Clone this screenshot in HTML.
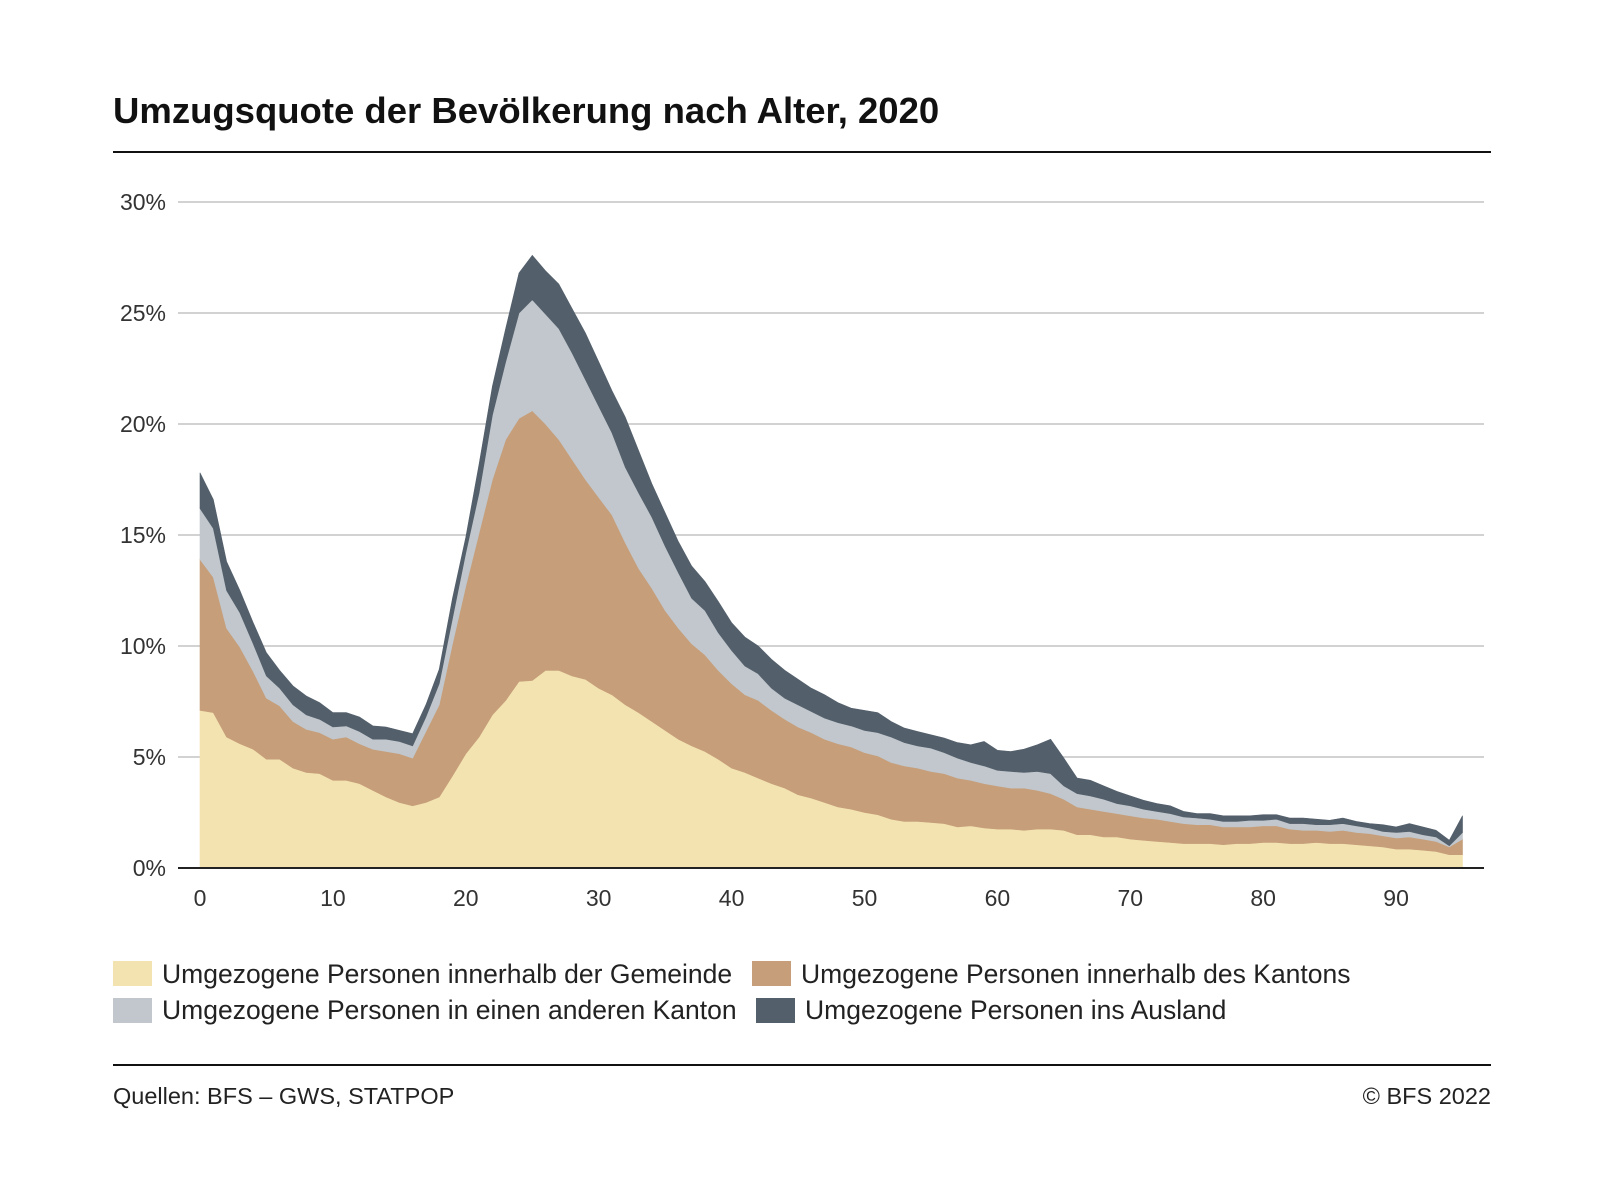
<!DOCTYPE html>
<html><head><meta charset="utf-8">
<style>
html,body{margin:0;padding:0;background:#fff;}
body{width:1600px;height:1196px;position:relative;overflow:hidden;font-family:"Liberation Sans",sans-serif;color:#111;}
svg{position:absolute;left:0;top:0;}
</style></head>
<body>
<svg id="chart" width="1600" height="1196" viewBox="0 0 1600 1196" xmlns="http://www.w3.org/2000/svg">
  <text x="113" y="123" font-family="Liberation Sans, sans-serif" font-size="36.5" font-weight="bold" fill="#111">Umzugsquote der Bevölkerung nach Alter, 2020</text>
  <rect x="113" y="151" width="1378" height="2" fill="#111"/>
  <g id="grid"></g>
  <g id="areas"></g>
  <g id="axes"></g>
  <g font-family="Liberation Sans, sans-serif" font-size="26.5" fill="#222">
    <g><rect x="113" y="961" width="39" height="25" fill="#f3e3b0"/><text x="162" y="983">Umgezogene Personen innerhalb der Gemeinde</text></g>
    <g><rect x="752" y="961" width="39" height="25" fill="#c69e7a"/><text x="801" y="983">Umgezogene Personen innerhalb des Kantons</text></g>
    <g><rect x="113" y="998" width="39" height="25" fill="#c1c7cc"/><text x="162" y="1019">Umgezogene Personen in einen anderen Kanton</text></g>
    <g><rect x="756" y="998" width="39" height="25" fill="#535f6b"/><text x="805" y="1019">Umgezogene Personen ins Ausland</text></g>
  </g>
  <rect x="113" y="1064" width="1378" height="2" fill="#111"/>
  <text x="113" y="1104" font-family="Liberation Sans, sans-serif" font-size="23.5" fill="#222">Quellen: BFS – GWS, STATPOP</text>
  <text x="1491" y="1104" text-anchor="end" font-family="Liberation Sans, sans-serif" font-size="23.5" fill="#222">© BFS 2022</text>
</svg>
<script>
const ages = Array.from({length:96},(_,i)=>i);
const gemeinde = [7.1,7.0,5.9,5.6,5.35,4.9,4.9,4.5,4.3,4.25,3.95,3.95,3.8,3.5,3.2,2.95,2.8,2.95,3.2,4.15,5.15,5.9,6.9,7.55,8.4,8.45,8.9,8.9,8.65,8.5,8.1,7.8,7.35,7.0,6.6,6.2,5.8,5.5,5.25,4.9,4.5,4.3,4.05,3.8,3.6,3.3,3.15,2.95,2.75,2.65,2.5,2.4,2.2,2.1,2.1,2.05,2.0,1.85,1.9,1.8,1.75,1.75,1.7,1.75,1.75,1.7,1.5,1.5,1.4,1.4,1.3,1.25,1.2,1.15,1.1,1.1,1.1,1.05,1.1,1.1,1.15,1.15,1.1,1.1,1.15,1.1,1.1,1.05,1.0,0.95,0.85,0.85,0.8,0.75,0.6,0.6];
const kanton = [6.8,6.1,4.9,4.35,3.5,2.75,2.4,2.1,1.95,1.85,1.85,1.95,1.8,1.85,2.05,2.2,2.15,3.2,4.15,5.95,7.55,9.2,10.6,11.75,11.85,12.15,11.1,10.4,9.75,9.0,8.6,8.1,7.3,6.5,6.0,5.4,5.0,4.6,4.35,4.0,3.8,3.5,3.5,3.3,3.1,3.05,2.95,2.85,2.85,2.8,2.7,2.65,2.55,2.5,2.4,2.3,2.25,2.2,2.05,2.0,1.95,1.85,1.9,1.75,1.6,1.4,1.25,1.15,1.15,1.05,1.05,1.0,1.0,0.95,0.9,0.85,0.85,0.8,0.75,0.75,0.75,0.75,0.65,0.6,0.55,0.55,0.6,0.55,0.55,0.5,0.5,0.55,0.5,0.45,0.35,0.7];
const andererKanton = [2.3,2.2,1.7,1.55,1.25,1.0,0.8,0.75,0.65,0.6,0.55,0.5,0.55,0.45,0.55,0.55,0.55,0.65,0.95,1.15,1.5,1.8,2.9,3.5,4.75,5.0,4.95,5.0,4.8,4.5,4.1,3.7,3.4,3.4,3.2,2.9,2.5,2.05,2.0,1.7,1.5,1.3,1.2,1.0,0.95,1.0,0.95,0.95,0.95,0.95,1.0,1.05,1.15,1.05,1.0,1.05,0.95,0.9,0.8,0.8,0.7,0.75,0.7,0.85,0.9,0.6,0.6,0.6,0.55,0.45,0.45,0.4,0.35,0.35,0.3,0.3,0.25,0.25,0.25,0.3,0.25,0.3,0.25,0.3,0.25,0.3,0.3,0.3,0.25,0.2,0.25,0.25,0.2,0.2,0.05,0.3];
const ausland = [1.6,1.3,1.3,1.0,0.95,1.05,0.8,0.85,0.85,0.75,0.65,0.6,0.65,0.6,0.55,0.5,0.55,0.55,0.65,0.9,0.7,1.3,1.3,1.5,1.8,2.0,1.95,2.0,2.0,2.1,2.0,1.9,2.25,1.9,1.5,1.5,1.4,1.45,1.3,1.4,1.25,1.3,1.25,1.3,1.25,1.15,1.05,1.05,0.9,0.8,0.9,0.9,0.7,0.65,0.65,0.6,0.65,0.7,0.8,1.1,0.9,0.9,1.05,1.2,1.55,1.25,0.7,0.7,0.6,0.55,0.45,0.4,0.35,0.35,0.25,0.2,0.25,0.25,0.25,0.2,0.25,0.2,0.25,0.25,0.25,0.2,0.25,0.2,0.2,0.3,0.25,0.35,0.35,0.3,0.25,0.75];
const yTicks = [0,5,10,15,20,25,30];
const yTickLabels = ["0%","5%","10%","15%","20%","25%","30%"];
const xTicks = [0,10,20,30,40,50,60,70,80,90];
const xTickLabels = ["0","10","20","30","40","50","60","70","80","90"];

const NS="http://www.w3.org/2000/svg";
const X0=200, XPER=13.29, Y0=868, YPER=22.2;
const xs = a => X0 + a*XPER;
const ys = v => Y0 - v*YPER;
function mk(tag, attrs, parent){const e=document.createElementNS(NS,tag);for(const k in attrs)e.setAttribute(k,attrs[k]);parent.appendChild(e);return e;}

const grid=document.getElementById('grid');
yTicks.forEach((t,i)=>{
  if(t>0){
    const l=mk('line',{x1:178,x2:1484,y1:ys(t),y2:ys(t),stroke:'#d2d2d2','stroke-width':2},grid);
    
    
  }
  const tx=mk('text',{x:166,y:ys(t)+8,'text-anchor':'end','font-size':23,fill:'#333','font-family':'Liberation Sans, sans-serif'},grid);
  tx.textContent=yTickLabels[i];
  
  
});

const series=[gemeinde,kanton,andererKanton,ausland];
const colors=['#f3e3b0','#c69e7a','#c1c7cc','#535f6b'];
const names=['area-gemeinde','area-kanton','area-anderer-kanton','area-ausland'];
const areas=document.getElementById('areas');
let base=ages.map(()=>0);
series.forEach((s,si)=>{
  const top=ages.map((a,i)=>base[i]+s[i]);
  let d='M'+ages.map((a,i)=>xs(a).toFixed(1)+','+ys(top[i]).toFixed(1)).join('L');
  for(let i=ages.length-1;i>=0;i--) d+='L'+xs(ages[i]).toFixed(1)+','+ys(base[i]).toFixed(1);
  d+='Z';
  const p=mk('path',{d:d,fill:colors[si],stroke:colors[si],'stroke-width':0.6},areas);
  
  
  base=top;
});

const axes=document.getElementById('axes');
const bl=mk('line',{x1:178,x2:1484,y1:Y0,y2:Y0,stroke:'#222','stroke-width':2},axes);


xTicks.forEach((t,i)=>{
  const tx=mk('text',{x:xs(t),y:906,'text-anchor':'middle','font-size':23,fill:'#333','font-family':'Liberation Sans, sans-serif'},axes);
  tx.textContent=xTickLabels[i];
  
  
});
</script>
</body></html>
